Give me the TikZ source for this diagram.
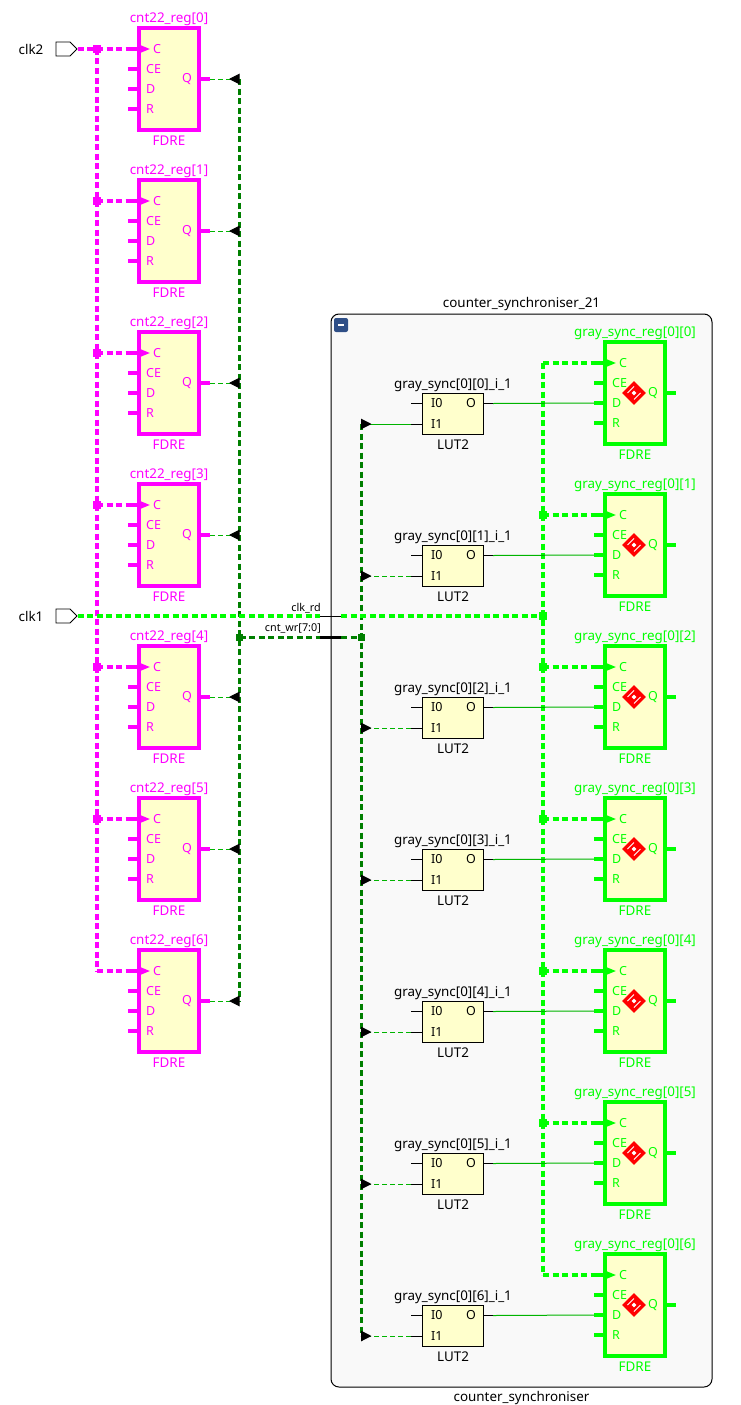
\documentclass[tikz,border=0pt]{standalone}
\usepackage{fontspec}
\setmainfont{Noto Sans}
\usetikzlibrary{arrows.meta, positioning}
\usetikzlibrary{shapes.geometric, shapes.symbols}
\definecolor{clkpink}{HTML}{FF00FF}
\definecolor{clkgreen}{HTML}{00FF00}
\definecolor{busgreen}{HTML}{007F00}
\definecolor{netgreen}{HTML}{00B400}
\definecolor{cellfill}{HTML}{FFFFCC}
\definecolor{groupfill}{HTML}{F9F9F9}
\definecolor{foldblue}{HTML}{2F4F87}
\tikzset{
 flopbox/.style = {draw=#1, fill=cellfill, line width=4pt, minimum width=60pt, minimum height=102pt},
   lutbox/.style = {draw, fill=cellfill, line width=1pt, minimum width=61pt, minimum height=41pt},
      lbl/.style = {font=\fontsize{13.4}{13.4}\selectfont, inner sep=0pt, text=#1},
      lbl/.default = black,
      pin/.style = {font=\fontsize{12.5}{12.5}\selectfont, inner sep=0pt, text=#1, anchor=west},
      pin/.default = black,
     stub/.style = {draw=#1, line width=4pt},
      bus/.style = {draw=#1, line width=4pt, dash pattern=on 6pt off 3.5pt},
    clkin/.style = {-{Triangle[length=13pt,width=9pt]}},
      net/.style = {draw=netgreen, line width=1pt},
     tapd/.style = {net, dash pattern=on 5pt off 3pt},
   netend/.style = {-{Triangle[reversed,length=10.5pt,width=10.5pt,black]}},
     junc/.style = {fill=#1, inner sep=0pt, minimum size=8pt},
     port/.style = {draw, fill=white, signal, signal to=east, signal pointer angle=90, line width=.8pt,
                    inner sep=0pt, minimum width=21pt, minimum height=14pt}
}
% one register with its pins
\newcommand{\flop}[5]{
  \node (#1) [flopbox=#4] at (#2,#3) {};
  \node (#1title) [lbl=#4, above=0pt of #1] {#5};
  \node (#1type)  [lbl=#4, below=4pt of #1] {FDRE};
  \node (#1pc)  [pin=#4] at ([shift={(-16,-30)}]#1) {C};
  \node (#1pce) [pin=#4] at ([shift={(-23,-10)}]#1) {CE};
  \node (#1pd)  [pin=#4] at ([shift={(-23,10)}]#1) {D};
  \node (#1pr)  [pin=#4] at ([shift={(-23,30)}]#1) {R};
  \node (#1pq)  [pin=#4] at ([shift={(13,0)}]#1) {Q};
  \coordinate (#1C) at ([shift={(-18.5,-30)}]#1);
  \coordinate (#1Cs) at ([shift={(-41,-30)}]#1);
  \coordinate (#1Ce) at ([shift={(-32,-30)}]#1);
  \coordinate (#1Es) at ([shift={(-41,-10)}]#1);
  \coordinate (#1Ee) at ([shift={(-32,-10)}]#1);
  \coordinate (#1Ds) at ([shift={(-41,10)}]#1);
  \coordinate (#1De) at ([shift={(-32,10)}]#1);
  \coordinate (#1Rs) at ([shift={(-41,30)}]#1);
  \coordinate (#1Re) at ([shift={(-32,30)}]#1);
  \coordinate (#1Qs) at ([shift={(32,0)}]#1);
  \coordinate (#1Qe) at ([shift={(41,0)}]#1);
  \draw[stub=#4] (#1Es) -- (#1Ee) (#1Ds) -- (#1De) (#1Rs) -- (#1Re) (#1Qs) -- (#1Qe);
}
\begin{document}
\begin{tikzpicture}[x=1pt, y=-1pt]
\useasboundingbox (0,0) rectangle (741,1405);
%nodes
\node (group) [draw, fill=groupfill, rounded corners=8pt, line width=1pt,
               minimum width=381pt, minimum height=1073pt] at (521.5,850.5) {};
\node (group title) [lbl, above=3pt of group] {counter\_synchroniser\_21};
\node (group type)  [lbl, below=4pt of group] {counter\_synchroniser};
\node (fold) [fill=foldblue, rounded corners=2pt, inner sep=0pt,
              minimum size=14pt] at (341,325) {\textcolor{white}{\rule{6pt}{2pt}}};
%
\node (clk2) [port] at (63,49) {};
\node (clk1) [port] at (63,616) {};
\node (clk2 name) [lbl, left=12pt of clk2] {clk2};
\node (clk1 name) [lbl, left=12pt of clk1] {clk1};
%
\foreach \i/\y in {0/79,1/231,2/383,3/535,4/697,5/849,6/1001}{
  \flop{cnt\i}{169}{\y}{clkpink}{cnt22\_reg[\i]}
  \coordinate (tap\i) at (97,\y-30);
  \coordinate (qb\i) at (239.5,\y);
}
\foreach \i/\y in {0/393,1/545,2/697,3/849,4/1001,5/1153,6/1305}{
  \flop{gray\i}{635}{\y}{clkgreen}{gray\_sync\_reg[0][\i]}
  \node (bad\i) [diamond, fill=red, inner sep=0pt, minimum size=24pt] at ([shift={(-1,0)}]gray\i) {};
  \node (bad\i c) [diamond, fill=white, inner sep=0pt, minimum size=5pt] at (bad\i) {};
  \draw[white, line width=.8pt] ([shift={(-6.5,0)}]bad\i.center) -- ([shift={(0,-6.5)}]bad\i.center)
                                ([shift={(6.5,0)}]bad\i.center) -- ([shift={(0,6.5)}]bad\i.center);
  \coordinate (rtap\i) at (543,\y-30);
  \coordinate (ib\i) at (361,\y+31);
  \node (lut\i) [lutbox] at (453,\y+21) {};
  \node (lut\i title) [lbl, above=1pt of lut\i] {gray\_sync[0][\i]\_i\_1};
  \node (lut\i type)  [lbl, below=4.5pt of lut\i] {LUT2};
  \node (lut\i a) [pin] at ([shift={(-22,-10.5)}]lut\i) {I0};
  \node (lut\i b) [pin] at ([shift={(-22,10)}]lut\i) {I1};
  \node (lut\i o) [pin] at ([shift={(13,-10.5)}]lut\i) {O};
  \coordinate (lut\i As) at ([shift={(-42,-10.5)}]lut\i);
  \coordinate (lut\i Ae) at ([shift={(-31,-10.5)}]lut\i);
  \coordinate (lut\i Bs) at ([shift={(-42,10)}]lut\i);
  \coordinate (lut\i Be) at ([shift={(-31,10)}]lut\i);
  \coordinate (lut\i Os) at ([shift={(31,-10.5)}]lut\i);
  \coordinate (lut\i Oe) at ([shift={(40,-10.5)}]lut\i);
  \draw[line width=1pt] (lut\i As) -- (lut\i Ae) (lut\i Bs) -- (lut\i Be) (lut\i Os) -- (lut\i Oe);
}
\coordinate (rdin)  at (320,616);
\coordinate (rdout) at (341,616);
\coordinate (wrin)  at (320,637);
\coordinate (wrout) at (341,637);
\node (rd name) [lbl, font=\fontsize{10.8}{10.8}\selectfont, anchor=east] at (321,608) {clk\_rd};
\node (wr name) [lbl, font=\fontsize{10.8}{10.8}\selectfont, anchor=east] at (321,628) {cnt\_wr[7:0]};
% edges
\foreach \i in {0,...,6}{
  \draw[stub=clkpink] (cnt\i Cs) -- (cnt\i Ce);
  \draw[stub=clkgreen] (gray\i Cs) -- (gray\i Ce);
}
%clk2
\draw[bus=clkpink] (clk2.east) -- (tap0);
\draw[bus=clkpink] (tap0) -- (tap6);
\foreach \i in {0,...,6}
  \draw[bus=clkpink, clkin, clkpink] (tap\i) -- (cnt\i C);
\foreach \i in {0,...,5}
  \node (jpink\i) [junc=clkpink] at (tap\i) {};
%cnt_wr
\draw[bus=busgreen, line width=3pt] (qb0) -- (qb6);
\draw[bus=busgreen, line width=3pt] (ib0) -- (ib6);
\coordinate (wrleft) at (239.5,637);
\coordinate (wrright) at (361,637);
\draw[bus=busgreen, line width=3pt] (wrleft) -- (wrin);
\draw[bus=busgreen, line width=3pt] (wrout) -- (wrright);
\draw[line width=3pt] (wrin) -- (wrout);
\node (jbusl) [junc=busgreen, minimum size=7pt] at (wrleft) {};
\node (jbusr) [junc=busgreen, minimum size=7pt] at (wrright) {};
%clk_rd
\coordinate (rdright) at (543,616);
\draw[bus=clkgreen] (clk1.east) -- (rdin);
\draw[line width=1pt] (rdin) -- (rdout);
\draw[bus=clkgreen] (rdout) -- (rdright);
\draw[bus=clkgreen] (rtap0) -- (rtap6);
\foreach \i in {0,...,6}
  \draw[bus=clkgreen, clkin, clkgreen] (rtap\i) -- (gray\i C);
\foreach \i in {1,...,5}
  \node (jgreen\i) [junc=clkgreen] at (rtap\i) {};
\node (jrd) [junc=clkgreen] at (rdright) {};
%data
\foreach \i in {0,...,6}{
  \draw[tapd, netend] (cnt\i Qe) -- (qb\i);
  \draw[net] (lut\i Oe) -- (gray\i Ds);
}
\draw[net, netend] (lut0Bs) -- (ib0);
\foreach \i in {1,...,6}
  \draw[tapd, netend] (lut\i Bs) -- (ib\i);
\end{tikzpicture}
\end{document}
